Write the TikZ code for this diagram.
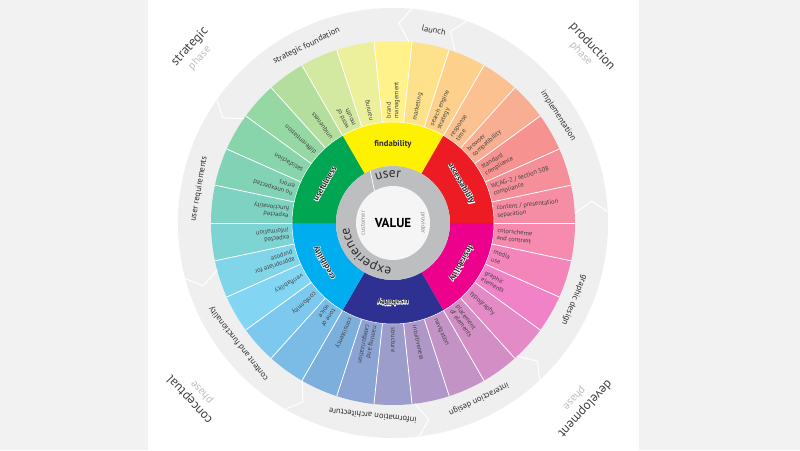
\documentclass[tikz,border=0pt]{standalone}
\usepackage{fontspec}
\setmainfont{PT Sans}
\usetikzlibrary{decorations.text}

\definecolor{sidegrey}{HTML}{F2F2F2}
\definecolor{bandgrey}{HTML}{EFEFEF}
\definecolor{ringgrey}{HTML}{BCBEC0}
\definecolor{coregrey}{HTML}{F5F5F5}
\definecolor{txtdark}{HTML}{2E2E2E}
\definecolor{txtmid}{HTML}{424242}
\definecolor{txtlight}{HTML}{BDBDBD}
\definecolor{txtsoft}{HTML}{8A8A8A}
\definecolor{cfind}{HTML}{FFF200}
\definecolor{cacc}{HTML}{ED1C24}
\definecolor{cdes}{HTML}{EC008C}
\definecolor{cusa}{HTML}{2E3192}
\definecolor{ccred}{HTML}{00AEEF}
\definecolor{cusef}{HTML}{00A651}

\newcommand\fsl{/}
\newcommand\ringtxt{\fontsize{13.5}{13.5}\selectfont}
% white outline drawn as stroked text (text render mode 1)
\newcommand\halo[1]{\special{pdf:literal direct 1 Tr 1 1 1 RG 0.9 w 1 j}#1\special{pdf:literal direct 0 Tr}}

\tikzset{
  olab/.style={anchor=west, align=left, font=\fontsize{6.5}{7.5}\selectfont, text=txtmid, inner sep=0pt},
  ilab/.style={font=\fontsize{8.6}{9}\selectfont\bfseries, text=txtdark, inner sep=0pt},
  blab/.style={font=\fontsize{8.5}{9}\selectfont, text=txtdark, inner sep=0pt},
  phmain/.style={font=\fontsize{13}{14}\selectfont, text=txtmid, inner sep=0pt},
  phsub/.style={font=\fontsize{11}{12}\selectfont, text=txtlight, inner sep=0pt},
  cplab/.style={font=\fontsize{6.2}{7}\selectfont, text=txtsoft, inner sep=0pt},
  segline/.style={draw=white, line width=0.8pt},
  chevline/.style={draw=white, line width=1pt, line join=miter},
}

\newcommand\oseg[3]{%
  \pgfmathsetmacro\osa{180-12*#1}%
  \pgfmathsetmacro\ose{168-12*#1}%
  \pgfmathsetmacro\osm{174-12*#1}%
  \definecolor{segcol}{HTML}{#2}%
  \fill[segcol] (\osa:101) arc[start angle=\osa, end angle=\ose, radius=101]
     -- (\ose:182) arc[start angle=\ose, end angle=\osa, radius=182] -- cycle;
  \node[olab, rotate=\osm] (o#1) at (\osm:104.5) {#3};
}
\newcommand\iseg[3]{%
  \fill[#3] (#1:57) arc[start angle=#1, end angle=#2, radius=57]
     -- (#2:101) arc[start angle=#2, end angle=#1, radius=101] -- cycle;
}
\newcommand\ilabel[4]{% name, angle, rotation, text
  \node[ilab, rotate=#3] (#1h) at (#2:79) {\halo{#4}};
  \node[ilab, rotate=#3] (#1) at (#2:79) {#4};
}
\newcommand\chev[1]{\draw[chevline] (#1:182) -- ({#1+3.3}:200) -- (#1:215);}

\begin{document}
\begin{tikzpicture}[x=1pt,y=1pt]
\useasboundingbox (-393,-227) rectangle (407,223);
\fill[white] (-393,-227) rectangle (407,223);
\fill[sidegrey] (-393,-227) rectangle (-245,223);
\fill[sidegrey] (246,-227) rectangle (407,223);

% outer band
\fill[bandgrey] (0,0) circle[radius=215];

% outer colored ring
\oseg{0}{7ED2C1}{expected\\functionality}
\oseg{1}{82D3B5}{no unexpected\\errors}
\oseg{2}{88D5AB}{satisfaction}
\oseg{3}{95D8A3}{differentiation}
\oseg{4}{B3DE9D}{uniqueness}
\oseg{5}{D3E8A0}{word of\\mouth}
\oseg{6}{ECF09C}{naming}
\oseg{7}{FFF28B}{brand\\management}
\oseg{8}{FEE28B}{marketing}
\oseg{9}{FDD18C}{search engine\\strategy}
\oseg{10}{FBC190}{response\\time}
\oseg{11}{F8AE92}{browser\\compatibility}
\oseg{12}{F6928F}{standard\\compliance}
\oseg{13}{F58F99}{WCAG-2 \fsl{} section 508\\compliance}
\oseg{14}{F58DA5}{content \fsl{} presentation\\separation}
\oseg{15}{F68AAF}{colorscheme\\and contrast}
\oseg{16}{F485BB}{media\\use}
\oseg{17}{F282C8}{graphic\\elements}
\oseg{18}{E48AC7}{typography}
\oseg{19}{D38EC6}{placement\\of elements}
\oseg{20}{C393C6}{navigation}
\oseg{21}{AF98C8}{intuitiveness}
\oseg{22}{9C9DCB}{structure}
\oseg{23}{8BA4D4}{naming and\\categorization}
\oseg{24}{7CAFDB}{consistency}
\oseg{25}{7ABCE6}{tone of\\voice}
\oseg{26}{7DC8EF}{conformity}
\oseg{27}{83D5F4}{verifiability}
\oseg{28}{80D5E9}{appropriate for\\purpose}
\oseg{29}{7DD4D3}{expected\\information}
\foreach \a in {0,12,...,348} \draw[segline] (\a:101) -- (\a:182);

% inner ring
\iseg{60}{120}{cfind}
\iseg{0}{60}{cacc}
\iseg{-60}{0}{cdes}
\iseg{-120}{-60}{cusa}
\iseg{180}{240}{ccred}
\iseg{120}{180}{cusef}
\draw[white, line width=0.5pt] (0,0) circle[radius=101];

\node[ilab] (find) at (90:79) {findability};
\ilabel{acc}{30}{-60}{accessability}
\ilabel{des}{-30}{-120}{desirability}
\ilabel{usa}{-90}{180}{usability}
\ilabel{cred}{210}{120}{credibility}
\ilabel{usef}{150}{60}{usefulness}

% grey ring and core
\fill[ringgrey] (0,0) circle[radius=57];
\fill[coregrey] (0,0) circle[radius=37];
\draw[white, line width=0.7pt] (113.5:57) -- (120:37);
\path[decorate, decoration={text along path, text align=center, text color=txtdark,
  text={|\ringtxt|user}}] (136:45.5) arc[start angle=136, end angle=56, radius=45.5];
\path[decorate, decoration={text along path, text align=center, text color=txtdark,
  text={|\ringtxt|experience}}] (287:44) arc[start angle=287, end angle=167, radius=44];
\node[cplab, rotate=90] (cust) at (180:30) {customer};
\node[cplab, rotate=-90] (prov) at (0:30) {provider};
\node[font=\fontsize{13}{13}\selectfont\bfseries, text=black] (val) at (0,0) {VALUE};

% chevrons in band
\chev{145}
\chev{85}
\chev{70}
\chev{3}
\chev{-47}
\chev{-83}
\chev{-120}
\chev{195}

% band labels
\node[blab, rotate=26] (bl1) at (116:197) {strategic foundation};
\node[blab, rotate=-12] (bl2) at (78:197) {launch};
\node[blab, rotate=-57] (bl3) at (33:197) {implementation};
\node[blab, rotate=-113] (bl4) at (-23:197) {graphic design};
\node[blab, rotate=-154] (bl5) at (-64:196) {interaction design};
\node[blab, rotate=174] (bl6) at (-96:194) {information architecture};
\node[blab, rotate=128] (bl7) at (218:196) {content and functionality};
\node[blab, rotate=80] (bl8) at (170:197) {user requirements};

% phase labels
\node[phmain, rotate=47] (ph1) at (139:269) {strategic};
\node[phsub, rotate=47] (ph1s) at (139.5:254) {phase};
\node[phmain, rotate=-47] (ph2) at (41.5:266) {production};
\node[phsub, rotate=-47] (ph2s) at (42:253) {phase};
\node[phmain, rotate=133] (ph3) at (221:269) {conceptual};
\node[phsub, rotate=133] (ph3s) at (221.5:255) {phase};
\node[phmain, rotate=-133] (ph4) at (-44:267) {development};
\node[phsub, rotate=-133] (ph4s) at (-44:252) {phase};
\end{tikzpicture}
\end{document}
